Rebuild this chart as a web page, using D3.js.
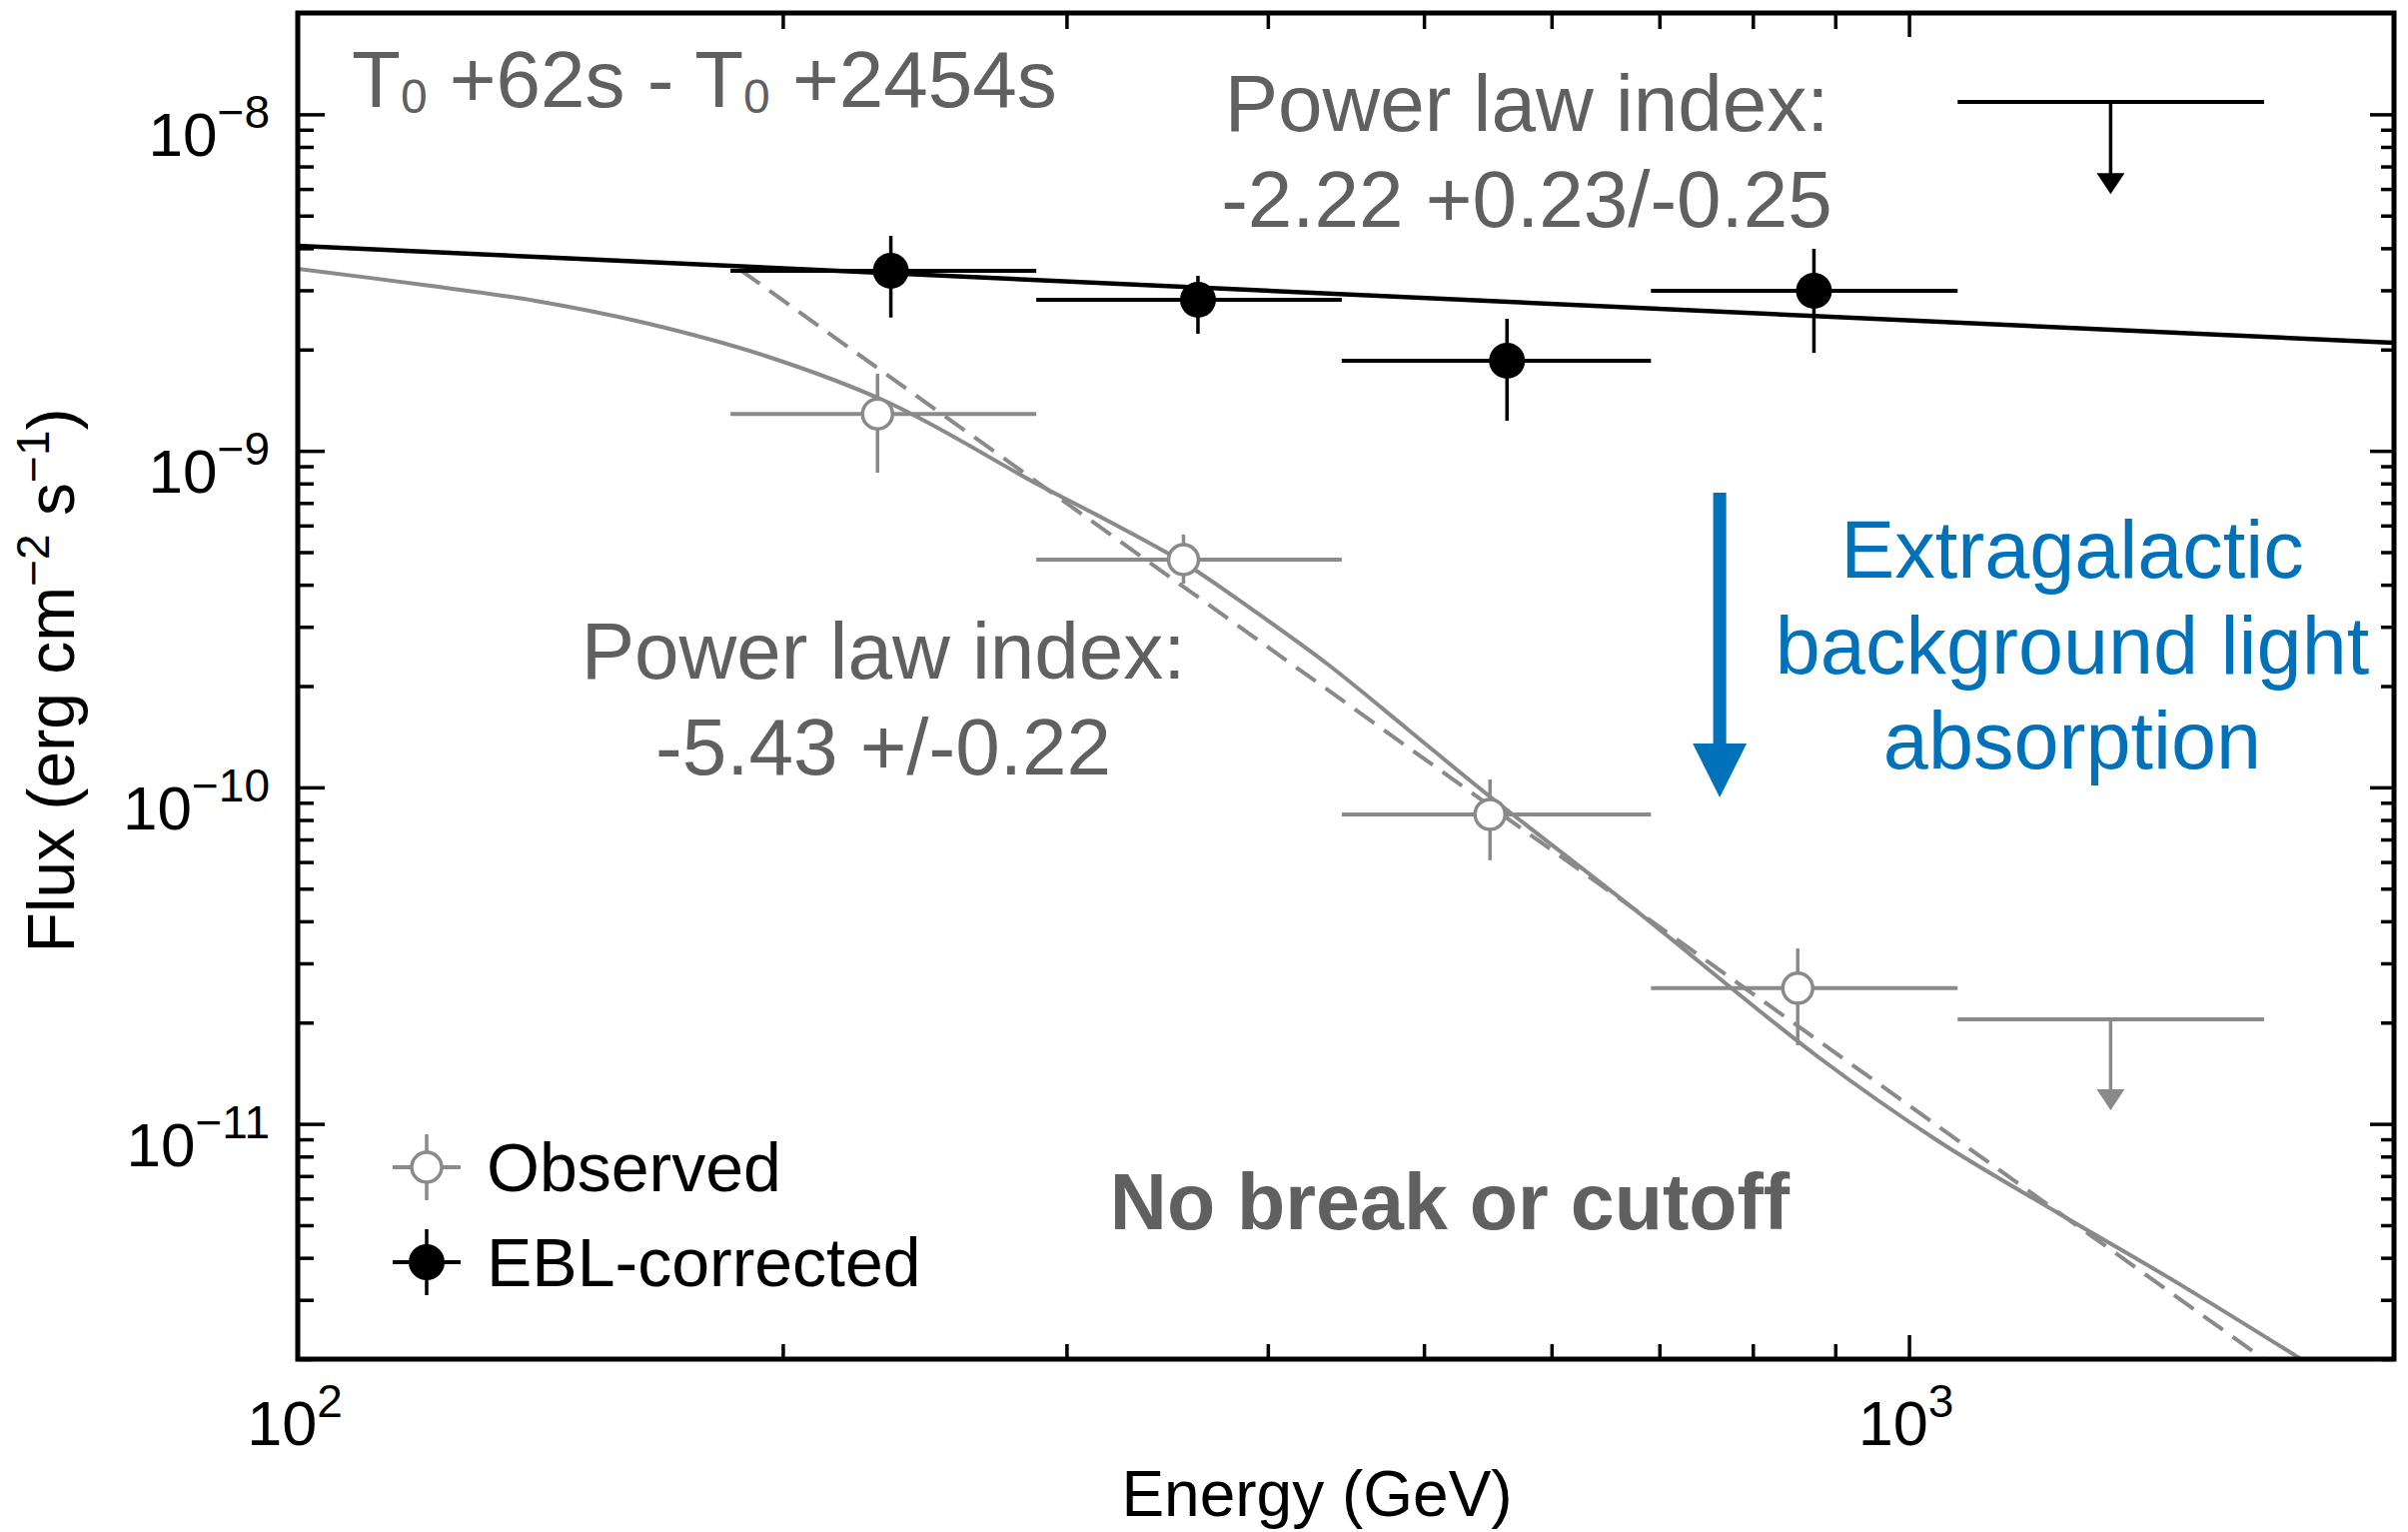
<!DOCTYPE html>
<html>
<head>
<meta charset="utf-8">
<script src="https://cdn.jsdelivr.net/npm/d3@7"></script>
<style>
  html, body { margin: 0; padding: 0; background: #fff; }
  svg { display: block; font-family: 'Liberation Sans', Arial, Helvetica, sans-serif; }
</style>
</head>
<body>
<svg id="chart" width="2410" height="1533"></svg>
<script>
// energy bins (GeV)
var binLo = [185.6, 287.3, 444.6, 691.6];
var binHi = [287.3, 444.6, 691.6, 1072];

// observed points (erg cm-2 s-1)
var obsEnergy = [229, 354.6, 549.5, 853];
var obsFlux = [1.287e-9, 4.75e-10, 8.31e-11, 2.53e-11];
var obsFluxHi = [1.695e-9, 5.64e-10, 1.056e-10, 3.32e-11];
var obsFluxLo = [8.61e-10, 4.03e-10, 6.07e-11, 1.712e-11];

// EBL-corrected points
var eblEnergy = [233.4, 362, 563, 873];
var eblFlux = [3.428e-9, 2.811e-9, 1.852e-9, 2.989e-9];
var eblFluxHi = [4.353e-9, 3.312e-9, 2.468e-9, 3.984e-9];
var eblFluxLo = [2.489e-9, 2.227e-9, 1.229e-9, 1.955e-9];

// upper limits in the last bin: [limit, arrow tip]
var ulEnergy = 1334;
var ulBin = [1072, 1661];
var obsUpper = [2.045e-11, 1.098e-11];
var eblUpper = [1.088e-8, 5.79e-9];

// fitted curves
var eblFitEnergy = [100, 2000];
var eblFitFlux = [4.066e-9, 2.095e-9];
var obsPowerEnergy = [188.2, 1658];
var obsPowerFlux = [3.45e-9, 2.01e-12];
var obsModelEnergy = [100, 120.9, 140.4, 163.2, 195.0, 233.4, 287.4, 319.0, 354.6, 393.6, 436.8, 489.5, 546.4, 673, 878.9, 1043, 1238, 1469, 1748];
var obsModelFlux = [3.475e-9, 3.093e-9, 2.792e-9, 2.417e-9, 1.916e-9, 1.380e-9, 7.99e-10, 6.16e-10, 4.655e-10, 3.307e-10, 2.301e-10, 1.476e-10, 9.59e-11, 4.40e-11, 1.577e-11, 8.88e-12, 5.43e-12, 3.36e-12, 2.01e-12];

// EBL absorption arrow
var arrowEnergy = 763;
var arrowFlux = [7.51e-10, 9.33e-11];

// tick labels
var xLabelValues = [100, 1000];
var xLabelExp = ['2', '3'];
var yLabelValues = [1e-8, 1e-9, 1e-10, 1e-11];
var yLabelExp = ['\u22128', '\u22129', '\u221210', '\u221211'];

(function () {
  var GREY = '#8a8a8a', TEXTGREY = '#606060', BLUE = '#0072bc';

  var svg = d3.select('#chart');
  var pLeft = 298, pRight = 2396, pTop = 13, pBottom = 1360;

  var x = d3.scaleLog().domain([100, 2000]).range([pLeft, pRight]);
  var y = d3.scaleLog().domain([2e-12, 2e-8]).range([pBottom, pTop]);

  svg.append('clipPath').attr('id', 'clip')
    .append('rect').attr('x', pLeft).attr('y', pTop)
    .attr('width', pRight - pLeft).attr('height', pBottom - pTop);

  var plot = svg.append('g').attr('clip-path', 'url(#clip)');

  // ticks (inward on all four sides)
  var xMinor = x.ticks().filter(function(v) { return v > 100 && v < 2000 && v !== 1000; });
  var xMajor = [1000];
  var yAll = y.ticks();
  var yMajor = yAll.filter(function(v) { return Math.abs(Math.log10(v) - Math.round(Math.log10(v))) < 1e-6; });
  var yMinor = yAll.filter(function(v) { return yMajor.indexOf(v) < 0 && v < 1.99e-8; });

  function tickAxis(axisFn, scale, vals, size, tx, ty) {
    var a = svg.append('g')
      .attr('transform', 'translate(' + tx + ',' + ty + ')')
      .call(axisFn(scale).tickValues(vals).tickSize(size).tickFormat(''));
    a.select('.domain').remove();
    a.selectAll('.tick line').attr('stroke', '#000').attr('stroke-width', 3.5);
  }
  tickAxis(d3.axisBottom, x, xMinor, -15, 0, pBottom);
  tickAxis(d3.axisBottom, x, xMajor, -24, 0, pBottom);
  tickAxis(d3.axisTop, x, xMinor, -16, 0, pTop);
  tickAxis(d3.axisTop, x, xMajor, -24, 0, pTop);
  tickAxis(d3.axisLeft, y, yMinor, -16, pLeft, 0);
  tickAxis(d3.axisLeft, y, yMajor, -27, pLeft, 0);
  tickAxis(d3.axisRight, y, yMinor, -13, pRight, 0);
  tickAxis(d3.axisRight, y, yMajor, -24, pRight, 0);

  // frame
  svg.append('rect')
    .attr('x', pLeft).attr('y', pTop)
    .attr('width', pRight - pLeft).attr('height', pBottom - pTop)
    .attr('fill', 'none').attr('stroke', '#000').attr('stroke-width', 5);

  // tick labels
  yLabelValues.forEach(function(v, i) {
    var t = svg.append('text')
      .attr('x', 270).attr('y', y(v) + 42)
      .attr('text-anchor', 'end').attr('font-size', 62).attr('fill', '#000');
    t.append('tspan').text('10');
    t.append('tspan').attr('font-size', 46).attr('dy', -28).text(yLabelExp[i]);
  });
  xLabelValues.forEach(function(v, i) {
    var t = svg.append('text')
      .attr('x', x(v) - 3).attr('y', 1446)
      .attr('text-anchor', 'middle').attr('font-size', 63).attr('fill', '#000');
    t.append('tspan').text('10');
    t.append('tspan').attr('font-size', 46).attr('dy', -28).text(xLabelExp[i]);
  });

  // axis titles
  svg.append('text')
    .attr('x', 1318).attr('y', 1517)
    .attr('text-anchor', 'middle').attr('font-size', 64)
    .text('Energy (GeV)');

  var yt = svg.append('text')
    .attr('transform', 'translate(74,681) rotate(-90)')
    .attr('text-anchor', 'middle').attr('font-size', 66);
  yt.append('tspan').text('Flux (erg cm');
  yt.append('tspan').attr('font-size', 46).attr('dy', -25).text('\u22122');
  yt.append('tspan').attr('dy', 25).text(' s');
  yt.append('tspan').attr('font-size', 46).attr('dy', -25).text('\u22121');
  yt.append('tspan').attr('dy', 25).text(')');

  // fitted lines
  var line = d3.line()
    .x(function(d) { return x(d[0]); })
    .y(function(d) { return y(d[1]); });
  var smooth = d3.line()
    .x(function(d) { return x(d[0]); })
    .y(function(d) { return y(d[1]); })
    .curve(d3.curveCatmullRom.alpha(0.5));

  plot.append('path')
    .datum(d3.zip(obsModelEnergy, obsModelFlux))
    .attr('fill', 'none').attr('stroke', GREY).attr('stroke-width', 4)
    .attr('d', smooth);

  plot.append('path')
    .datum(d3.zip(obsPowerEnergy, obsPowerFlux))
    .attr('fill', 'none').attr('stroke', GREY).attr('stroke-width', 4)
    .attr('stroke-dasharray', '24,12')
    .attr('d', line);

  plot.append('path')
    .datum(d3.zip(eblFitEnergy, eblFitFlux))
    .attr('fill', 'none').attr('stroke', '#000').attr('stroke-width', 4.5)
    .attr('d', line);

  // data points with error bars
  function drawPoints(E, F, Fhi, Flo, color, open) {
    var g = plot.append('g');
    var rows = d3.range(E.length);
    g.selectAll('line.h').data(rows).enter().append('line')
      .attr('class', 'h')
      .attr('x1', function(i) { return x(binLo[i]); })
      .attr('x2', function(i) { return x(binHi[i]); })
      .attr('y1', function(i) { return y(F[i]); })
      .attr('y2', function(i) { return y(F[i]); })
      .attr('stroke', color).attr('stroke-width', 4);
    g.selectAll('line.v').data(rows).enter().append('line')
      .attr('class', 'v')
      .attr('x1', function(i) { return x(E[i]); })
      .attr('x2', function(i) { return x(E[i]); })
      .attr('y1', function(i) { return y(Fhi[i]); })
      .attr('y2', function(i) { return y(Flo[i]); })
      .attr('stroke', color).attr('stroke-width', 3.5);
    g.selectAll('circle').data(rows).enter().append('circle')
      .attr('cx', function(i) { return x(E[i]); })
      .attr('cy', function(i) { return y(F[i]); })
      .attr('r', open ? 15 : 18)
      .attr('fill', open ? '#fff' : '#000')
      .attr('stroke', color).attr('stroke-width', open ? 3.5 : 0);
  }
  drawPoints(obsEnergy, obsFlux, obsFluxHi, obsFluxLo, GREY, true);
  drawPoints(eblEnergy, eblFlux, eblFluxHi, eblFluxLo, '#000', false);

  // upper limits
  function drawUpper(vals, color) {
    var cx = x(ulEnergy), y0 = y(vals[0]), y1 = y(vals[1]);
    plot.append('line')
      .attr('x1', x(ulBin[0])).attr('x2', x(ulBin[1]))
      .attr('y1', y0).attr('y2', y0)
      .attr('stroke', color).attr('stroke-width', 4);
    plot.append('line')
      .attr('x1', cx).attr('x2', cx)
      .attr('y1', y0).attr('y2', y1 - 18)
      .attr('stroke', color).attr('stroke-width', 3.5);
    plot.append('path')
      .attr('d', 'M' + (cx - 14) + ',' + (y1 - 21) + 'L' + (cx + 14) + ',' + (y1 - 21) + 'L' + cx + ',' + y1 + 'Z')
      .attr('fill', color);
  }
  drawUpper(eblUpper, '#000');
  drawUpper(obsUpper, GREY);

  // EBL absorption arrow
  var ax = x(arrowEnergy), aTop = y(arrowFlux[0]), aTip = y(arrowFlux[1]);
  svg.append('line')
    .attr('x1', ax).attr('x2', ax).attr('y1', aTop).attr('y2', aTip - 50)
    .attr('stroke', BLUE).attr('stroke-width', 13);
  svg.append('path')
    .attr('d', 'M' + (ax - 27) + ',' + (aTip - 54) + 'L' + (ax + 27) + ',' + (aTip - 54) + 'L' + ax + ',' + aTip + 'Z')
    .attr('fill', BLUE);

  // annotations
  var tt = svg.append('text')
    .attr('x', 352).attr('y', 107)
    .attr('font-size', 80).attr('fill', TEXTGREY);
  tt.append('tspan').text('T');
  tt.append('tspan').attr('font-size', 48).attr('dy', 6).text('0');
  tt.append('tspan').attr('dy', -6).text(' +62s - T');
  tt.append('tspan').attr('font-size', 48).attr('dy', 6).text('0');
  tt.append('tspan').attr('dy', -6).text(' +2454s');

  function centered(lines, cx, baselines, size, color, weight) {
    lines.forEach(function(s, i) {
      svg.append('text')
        .attr('x', cx).attr('y', baselines[i])
        .attr('text-anchor', 'middle')
        .attr('font-size', size).attr('fill', color)
        .attr('font-weight', weight || 'normal')
        .text(s);
    });
  }
  centered(['Power law index:', '-2.22 +0.23/-0.25'], 1528, [131, 227], 80, TEXTGREY);
  centered(['Power law index:', '-5.43 +/-0.22'], 884, [679, 775], 80, TEXTGREY);
  centered(['Extragalactic', 'background light', 'absorption'], 2074, [578, 674, 769], 81, BLUE);
  centered(['No break or cutoff'], 1451, [1230], 79, TEXTGREY, 'bold');

  // legend
  function legendItem(cy, label, color, open) {
    var lx = 427;
    svg.append('line').attr('x1', lx - 34).attr('x2', lx + 34).attr('y1', cy).attr('y2', cy)
      .attr('stroke', color).attr('stroke-width', 4);
    svg.append('line').attr('x1', lx).attr('x2', lx).attr('y1', cy - 33).attr('y2', cy + 33)
      .attr('stroke', color).attr('stroke-width', 3.5);
    svg.append('circle').attr('cx', lx).attr('cy', cy).attr('r', open ? 15 : 18)
      .attr('fill', open ? '#fff' : '#000')
      .attr('stroke', color).attr('stroke-width', open ? 3.5 : 0);
    svg.append('text').attr('x', 487).attr('y', cy + 24)
      .attr('font-size', 68).attr('fill', '#000').text(label);
  }
  legendItem(1168, 'Observed', GREY, true);
  legendItem(1263, 'EBL-corrected', '#000', false);
})();
</script>
</body>
</html>
